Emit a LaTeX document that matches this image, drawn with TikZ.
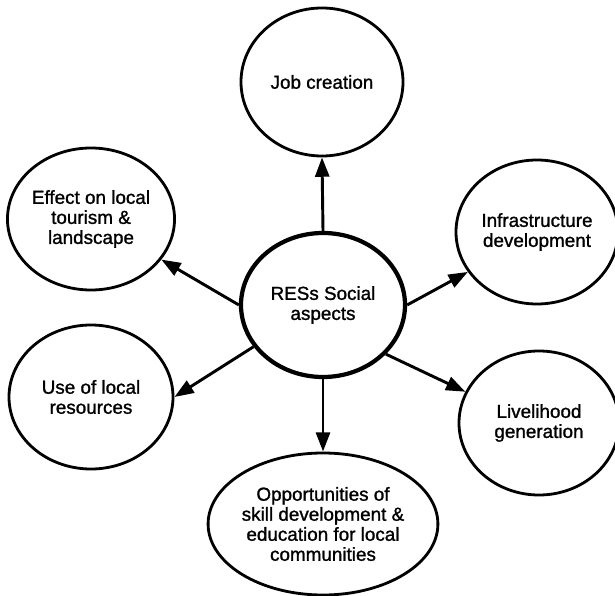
\documentclass[tikz,border=0pt]{standalone}
\usepackage{fontspec}
\setmainfont{Liberation Sans}
\newfontfamily\bubblefont{Liberation Sans}[FakeBold=1.2]
\usetikzlibrary{shapes.geometric, arrows.meta}

\begin{document}
\begin{tikzpicture}[x=0.03cm, y=-0.03cm,
            bubble/.style = {ellipse, draw, line width=2.4pt, inner sep=0pt,
                             align=center, font=\bubblefont\fontsize{16.1}{17.1}\selectfont},
            hub/.style    = {bubble, line width=3.6pt},
            link/.style   = {line width=2.5pt, -{Triangle[length=5.8mm, width=4.2mm]}}
                        ]
            \useasboundingbox (0,0) rectangle (615,596);
            % centre
            \node[hub, minimum width=4.92cm, minimum height=4.32cm] (ctr) at (323,305) {RESs Social\\aspects};
            % aspects
            \node[bubble, minimum width=4.86cm, minimum height=4.44cm] (job) at (322,82)  {Job creation};
            \node[bubble, minimum width=4.92cm, minimum height=4.26cm] (eff) at (91,219)  {Effect on local\\tourism \&\\landscape};
            \node[bubble, minimum width=4.86cm, minimum height=4.32cm] (inf) at (537,232) {Infrastructure\\development};
            \node[bubble, minimum width=4.92cm, minimum height=4.32cm] (use) at (91,397)  {Use of local\\resources};
            \node[bubble, minimum width=4.80cm, minimum height=4.32cm] (liv) at (539,423) {Livelihood\\generation};
            \node[bubble, minimum width=5.52cm, minimum height=4.26cm] (opp) at (323,524) {Opportunities of\\skill development \&\\education for local\\communities};
            % arrows
            \draw[link] (ctr.90)  -- (job.-90);
            \draw[link] (ctr.180) -- (eff.-30);
            \draw[link] (ctr.211) -- (use.0);
            \draw[link] (ctr.0)   -- (inf.210);
            \draw[link] (ctr.-38) -- (liv.157);
            \draw[link] (ctr.-90) -- (opp.90);
    \end{tikzpicture}
\end{document}
